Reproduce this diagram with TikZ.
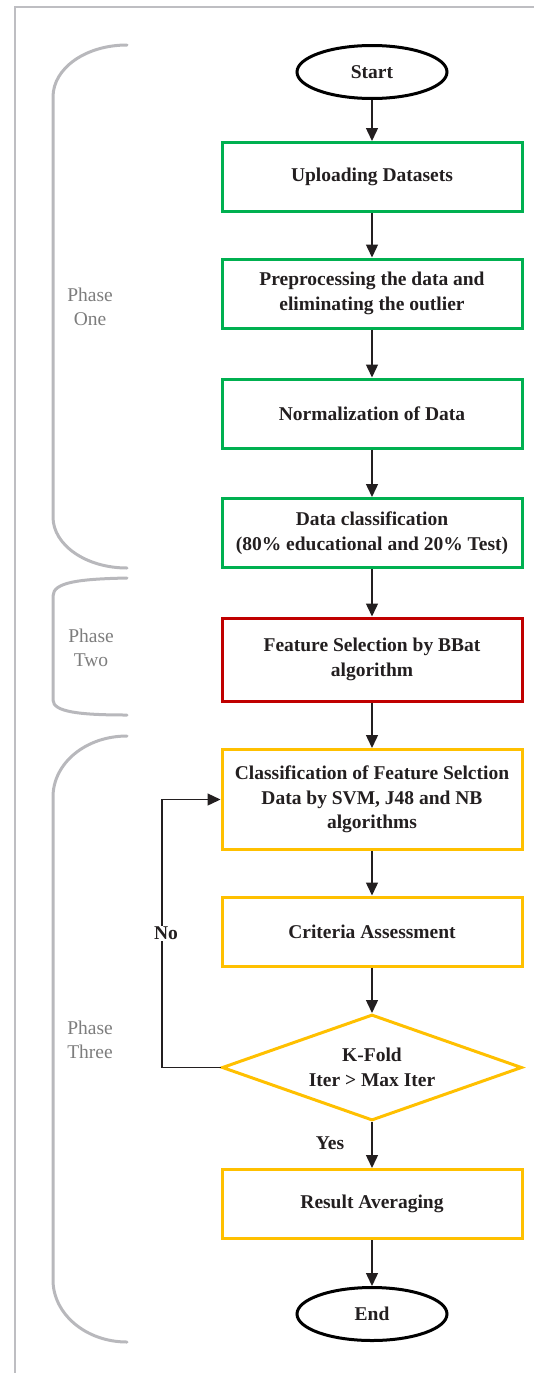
\documentclass[tikz,border=0pt]{standalone}
\usepackage{fontspec}
\setmainfont{Liberation Serif}
\usetikzlibrary{shapes.geometric,arrows.meta}
\definecolor{boxgreen}{RGB}{0,176,80}
\definecolor{boxred}{RGB}{192,0,0}
\definecolor{boxgold}{RGB}{255,192,0}
\definecolor{bracegray}{RGB}{184,184,188}
\definecolor{framegray}{RGB}{190,190,194}
\definecolor{labelgray}{RGB}{125,125,125}
\definecolor{ink}{RGB}{35,31,32}
\tikzset{
  txt/.style={font=\fontsize{19.5}{24.5}\selectfont\bfseries, text=ink, align=center},
  procbox/.style={txt, draw=#1, line width=3pt, minimum width=300pt, minimum height=69pt, inner sep=0pt},
  termnode/.style={txt, draw=black, line width=3pt, ellipse, minimum width=150pt, minimum height=53pt, inner sep=0pt},
  decide/.style={txt, draw=boxgold, line width=3pt, diamond, aspect=2.8, minimum width=300pt, minimum height=106pt, inner sep=0pt},
  flow/.style={draw=ink, line width=1.4pt, -{Triangle[length=13pt,width=12pt]}},
  brace/.style={draw=bracegray, line width=3pt, line cap=round},
  phaselabel/.style={font=\fontsize{19.5}{24}\selectfont, text=labelgray, align=center},
  cond/.style={txt, fill=white, inner sep=1pt}
}
\begin{document}
\begin{tikzpicture}[x=1pt, y=-1pt]
\useasboundingbox (0,0) rectangle (534,1373);
% frame
\draw[framegray, line width=2.5pt] (15,1373) -- (15,7) -- (534,7);
% braces
\draw[brace] (127,45) .. controls (86,45) and (53,68) .. (53,97) -- (53,517)
  .. controls (53,545) and (86,568) .. (127,568);
\draw[brace] (127,578) .. controls (80,579) and (53,582) .. (53,596) -- (53,700)
  .. controls (53,712) and (80,715) .. (127,715);
\draw[brace] (127,736) .. controls (86,736) and (53,763) .. (53,797) -- (53,1280)
  .. controls (53,1314) and (86,1342) .. (127,1342);
\node[phaselabel] (p1) at (90,307) {Phase\\One};
\node[phaselabel] (p2) at (91,648) {Phase\\Two};
\node[phaselabel] (p3) at (90,1040) {Phase\\Three};
% nodes
\node[termnode] (start) at (372,72) {Start};
\node[procbox=boxgreen] (upload) at (372,177) {Uploading Datasets};
\node[procbox=boxgreen] (prep) at (372,293.5) {Preprocessing the data and\\eliminating the outlier};
\node[procbox=boxgreen] (norm) at (372,413.5) {Normalization of Data};
\node[procbox=boxgreen] (split) at (372,533) {Data classification\\(80\% educational and 20\% Test)};
\node[procbox=boxred, minimum height=83pt] (fsel) at (372,659.5) {Feature Selection by BBat\\algorithm};
\node[procbox=boxgold, minimum height=100pt] (clf) at (372,799.5) {Classification of Feature Selction\\Data by SVM, J48 and NB\\algorithms};
\node[procbox=boxgold] (crit) at (372,931.5) {Criteria Assessment};
\node[decide] (kfold) at (372,1067.5) {K-Fold\\Iter > Max Iter};
\node[procbox=boxgold] (avg) at (372,1204) {Result Averaging};
\node[termnode] (end) at (372,1314) {End};
% connectors
\draw[flow] (start) -- (upload);
\draw[flow] (upload) -- (prep);
\draw[flow] (prep) -- (norm);
\draw[flow] (norm) -- (split);
\draw[flow] (split) -- (fsel);
\draw[flow] (fsel) -- (clf);
\draw[flow] (clf) -- (crit);
\draw[flow] (crit) -- (kfold);
\draw[flow] (kfold) -- node[txt, pos=0.45, xshift=-42pt] (yes) {Yes} (avg);
\draw[flow] (avg) -- (end);
\coordinate (loopb) at (162,1067.5);
\coordinate (loopt) at (162,799.5);
\draw[flow] (kfold.west) -- (loopb) -- node[cond, pos=0.5, xshift=4pt] (no) {No} (loopt) -- (clf.west);
\end{tikzpicture}
\end{document}
